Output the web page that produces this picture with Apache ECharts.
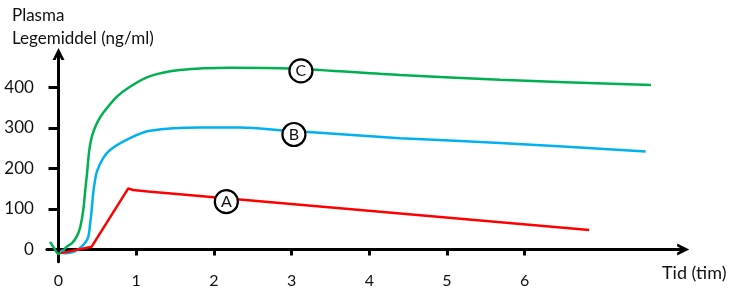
<!DOCTYPE html>
<html><head><meta charset="utf-8">
<script src="https://cdn.jsdelivr.net/npm/echarts@6/dist/echarts.min.js"></script>
<style>html,body{margin:0;padding:0;background:#fff}#c{width:750px;height:297px}</style>
</head><body><div id="c"></div>
<script>
// Data: [time (h), concentration (ng/ml)]
const seriesC = [[-0.109,19],[-0.058,4],[0.0,-11],[0.045,-6],[0.106,7],[0.174,16],[0.234,32],[0.277,53],[0.319,98],[0.341,140],[0.363,180],[0.38,215],[0.393,241],[0.418,270],[0.457,295],[0.508,317],[0.573,337],[0.749,377],[0.92,402],[1.178,428],[1.564,443],[2.207,449],[2.979,447],[4.395,431],[5.682,419],[7.625,406]];
const seriesB = [[0.032,-1],[0.084,-9],[0.148,-8],[0.212,-4],[0.277,4],[0.341,16],[0.384,32],[0.405,60],[0.427,98],[0.444,135],[0.465,165],[0.495,193],[0.573,225],[0.663,246],[0.92,275],[1.178,293],[1.821,301],[2.336,301],[2.979,293],[4.395,275],[5.682,263],[7.557,242]];
const seriesA = [[0.032,-9],[0.427,7],[0.448,11],[0.898,151],[0.959,147],[1.152,143],[6.831,48]];
const labelA = [2.16,118], labelB = [3.03,284], labelC = [3.12,441];
const xTicks = [0,1,2,3,4,5,6];
const yTicks = [0,100,200,300,400];
const yAxisTitle = 'Plasma\nLegemiddel (ng/ml)';
const xAxisTitle = 'Tid (tim)';

const chart = echarts.init(document.getElementById('c'), null, {renderer:'canvas'});
const font = 'Lato, "Open Sans", sans-serif';
const arrowPath = 'path://M0,10 L5,0 L10,10 L7.4,10 L5,5 L2.6,10 Z';
function mp(pt, letter){
  return {
    symbol:'circle', symbolSize:23, silent:true,
    itemStyle:{color:'#fff', borderColor:'#000', borderWidth:2.2},
    label:{show:true, position:'inside', formatter: letter, color:'#111', fontSize:16, fontFamily:font},
    data:[{coord: pt, value: letter}]
  };
}
chart.setOption({
  animation:false,
  title:[
    {text:yAxisTitle, left:12, top:4, padding:0, textStyle:{fontFamily:font, fontSize:17, fontWeight:'normal', color:'#111', lineHeight:23}},
    {text:xAxisTitle, left:662, top:264, padding:0, textStyle:{fontFamily:font, fontSize:18, fontWeight:'normal', color:'#111'}}
  ],
  grid:{left:46.85, right:66.8, top:53.9, bottom:35.35, containLabel:false},
  xAxis:{
    type:'value', min:-0.15, max:8.04,
    axisLine:{onZero:true, lineStyle:{color:'#000', width:3}, symbol:['none', arrowPath], symbolSize:[15,12]},
    axisTick:{show:true, customValues:[1,2,3,4,5,6], length:6, lineStyle:{color:'#000', width:3}},
    axisLabel:{customValues:xTicks, margin:11, fontFamily:font, fontSize:16, color:'#111'},
    splitLine:{show:false}
  },
  yAxis:{
    type:'value', min:-30, max:483,
    axisLine:{onZero:true, lineStyle:{color:'#000', width:3}, symbol:['none', arrowPath], symbolSize:[15,12]},
    axisTick:{show:true, customValues:[100,200,300,400], length:10, lineStyle:{color:'#000', width:3}},
    axisLabel:{customValues:yTicks, margin:13, fontFamily:font, fontSize:17, color:'#111'},
    splitLine:{show:false}
  },
  series:[
    {name:'C', type:'line', data:seriesC, smooth:0.3, showSymbol:false, lineStyle:{color:'#00b050', width:2.5}, markPoint:mp(labelC,'C')},
    {name:'B', type:'line', data:seriesB, smooth:0.3, showSymbol:false, lineStyle:{color:'#00b0f0', width:2.5}, markPoint:mp(labelB,'B')},
    {name:'A', type:'line', data:seriesA, smooth:false, showSymbol:false, lineStyle:{color:'#ff0000', width:2.5}, markPoint:mp(labelA,'A')}
  ]
});
</script></body></html>
